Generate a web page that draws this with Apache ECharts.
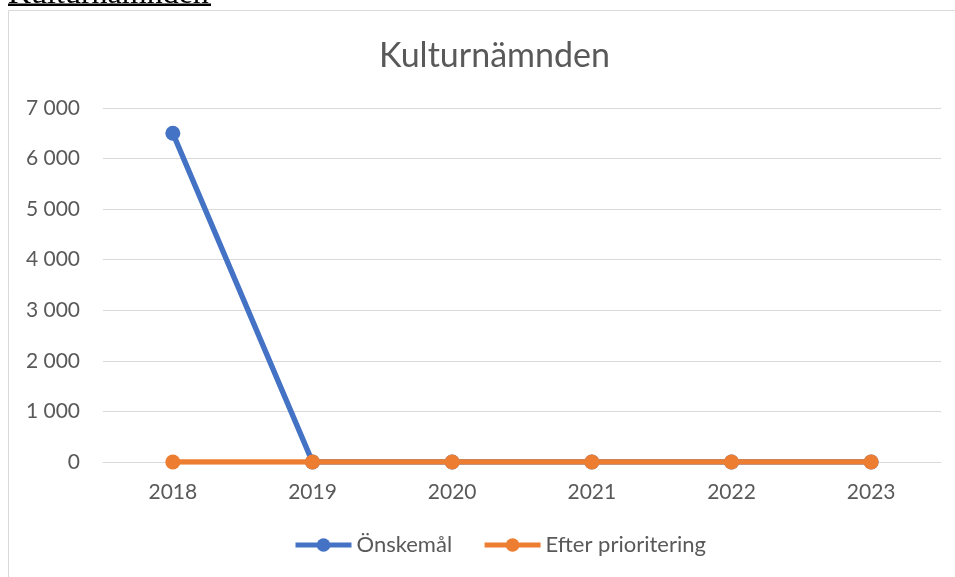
<!DOCTYPE html>
<html>
<head>
<meta charset="utf-8">
<script src="https://cdn.jsdelivr.net/npm/echarts@6/dist/echarts.min.js"></script>
<style>
  html, body { margin: 0; padding: 0; background: #fff; }
  #chart { width: 955px; height: 577px; }
</style>
</head>
<body>
<div id="chart"></div>
<script>
const years = ["2018", "2019", "2020", "2021", "2022", "2023"];
const onskemal = [6500, 0, 0, 0, 0, 0];
const efterPrioritering = [0, 0, 0, 0, 0, 0];

const textColor = "#595959";
const font = "Lato, 'Open Sans', sans-serif";

function formatThousands(value) {
  return String(value).replace(/\B(?=(\d{3})+(?!\d))/g, " ");
}

const chart = echarts.init(document.getElementById("chart"));

chart.setOption({
  backgroundColor: "#ffffff",
  animation: false,
  graphic: [
    {
      type: "rect",
      shape: { x: 8.5, y: 10.5, width: 960, height: 580 },
      style: { fill: "none", stroke: "#d9d9d9", lineWidth: 1 },
      silent: true
    },
    {
      type: "text",
      left: 8,
      top: -21,
      style: {
        text: "Kulturnämnden",
        font: "32px 'Liberation Serif', serif",
        fill: "#000"
      }
    },
    {
      type: "rect",
      shape: { x: 8, y: 3.5, width: 203, height: 2.5 },
      style: { fill: "#000" }
    }
  ],
  title: {
    text: "Kulturnämnden",
    left: 374,
    top: 34,
    textStyle: {
      color: textColor,
      fontFamily: font,
      fontSize: 34,
      fontWeight: "normal"
    }
  },
  legend: {
    bottom: 16,
    left: 288,
    itemWidth: 56,
    itemHeight: 17,
    itemGap: 30,
    textStyle: { color: textColor, fontFamily: font, fontSize: 22 },
    lineStyle: { width: 5 },
    data: ["Önskemål", "Efter prioritering"]
  },
  grid: {
    left: 103,
    right: 14,
    top: 108,
    bottom: 115,
    containLabel: false
  },
  xAxis: {
    type: "category",
    data: years,
    boundaryGap: true,
    axisLine: { show: true, lineStyle: { color: "#d9d9d9", width: 1 } },
    axisTick: { show: false },
    axisLabel: { color: textColor, fontFamily: font, fontSize: 21, margin: 20 }
  },
  yAxis: {
    type: "value",
    min: 0,
    max: 7000,
    interval: 1000,
    axisLine: { show: false },
    axisTick: { show: false },
    axisLabel: {
      color: textColor,
      fontFamily: font,
      fontSize: 21,
      margin: 23,
      formatter: formatThousands
    },
    splitLine: { lineStyle: { color: "#d9d9d9", width: 1 } }
  },
  series: [
    {
      name: "Önskemål",
      type: "line",
      data: onskemal,
      symbol: "circle",
      symbolSize: 15,
      lineStyle: { color: "#4472c4", width: 5.5 },
      itemStyle: { color: "#4472c4" },
      z: 2
    },
    {
      name: "Efter prioritering",
      type: "line",
      data: efterPrioritering,
      symbol: "circle",
      symbolSize: 15,
      lineStyle: { color: "#ed7d31", width: 5.5 },
      itemStyle: { color: "#ed7d31" },
      z: 3
    }
  ]
});
</script>
</body>
</html>
